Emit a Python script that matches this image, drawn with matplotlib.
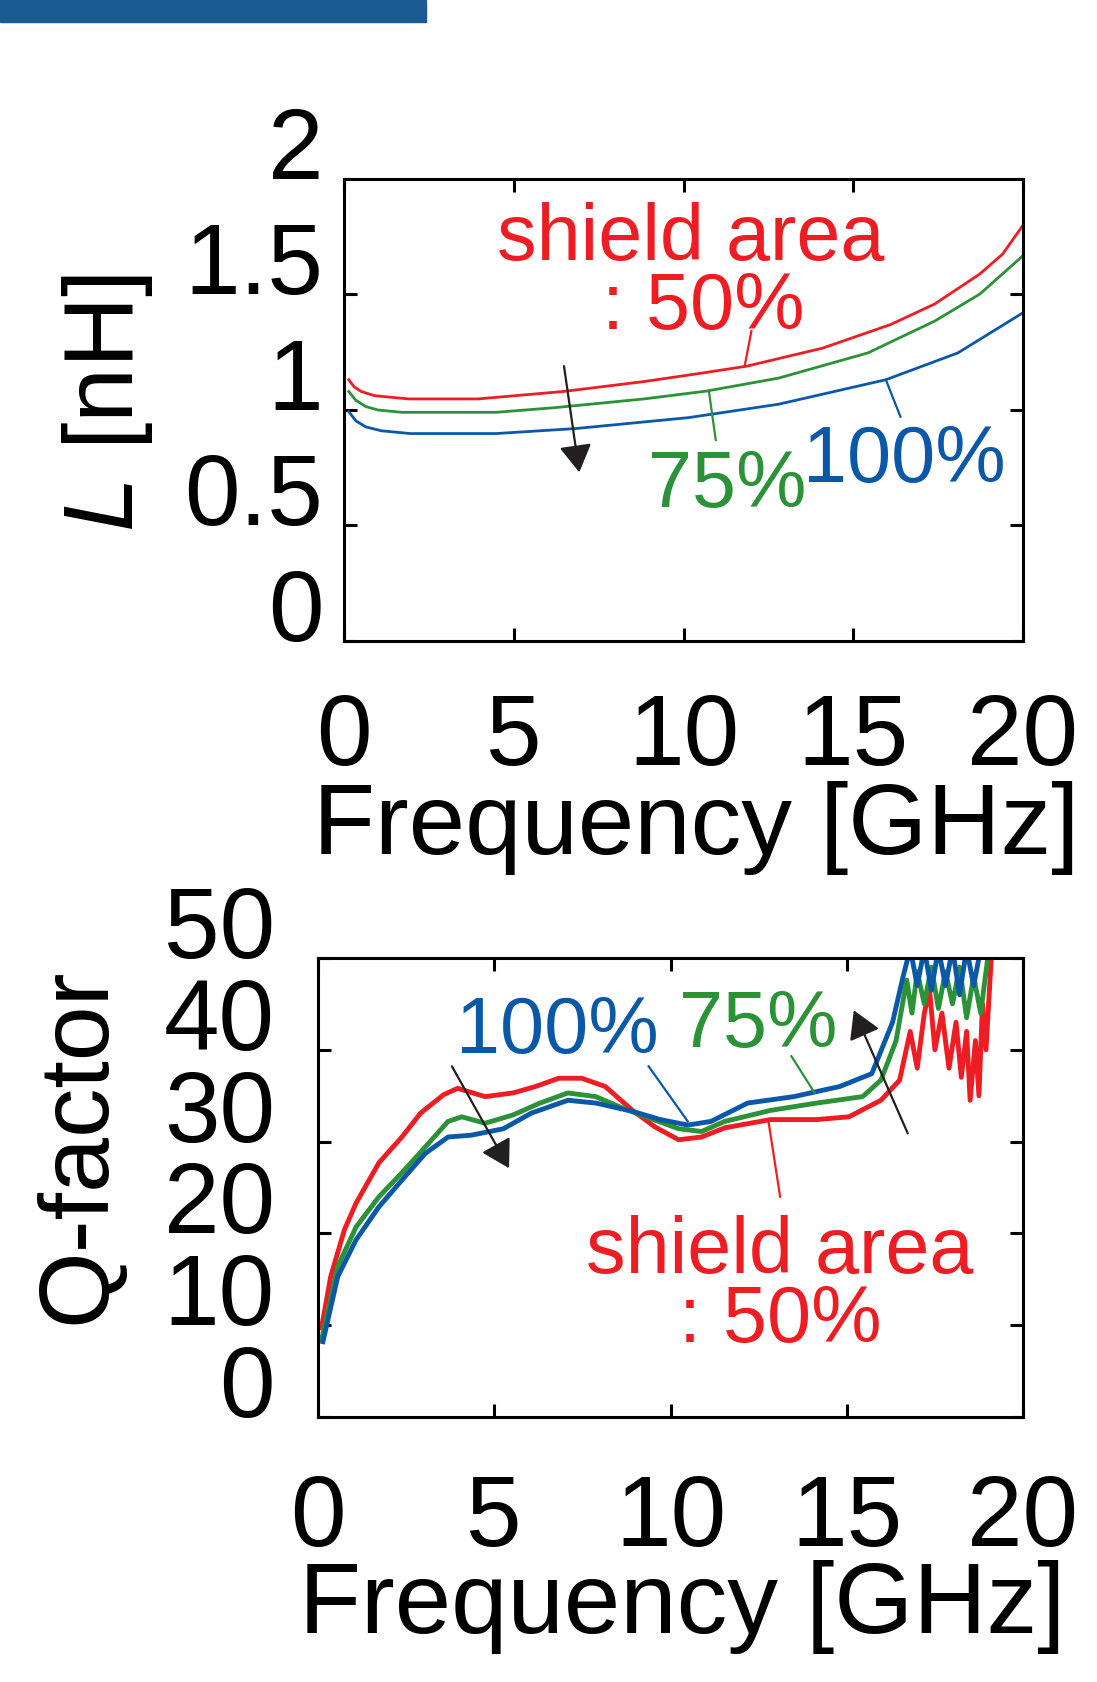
#!/usr/bin/python
# inductance and Q-factor vs frequency for three shield areas

import matplotlib
matplotlib.use("Agg")
import matplotlib.pyplot as plt
from matplotlib.patches import Rectangle

plt.rcParams['font.family'] = ['Liberation Sans', 'DejaVu Sans']
plt.rcParams['mathtext.fontset'] = 'custom'
plt.rcParams['mathtext.rm'] = 'Liberation Sans'
plt.rcParams['mathtext.it'] = 'Liberation Sans:italic'

RED = "#ee1d23"
GREEN = "#2b9237"
BLUE = "#0b58a8"
BLACK = "#231f20"

# ---- L [nH] data
fL50 = [0.14, 0.3, 0.51, 0.9, 1.9, 3.95, 6.45, 8.83, 10.55, 11.87, 14.1, 16.1, 17.4, 18.73, 19.4, 20.0]
L50 = [1.131, 1.100, 1.080, 1.062, 1.048, 1.048, 1.080, 1.123, 1.160, 1.190, 1.268, 1.37, 1.459, 1.589, 1.675, 1.80]
fL75 = [0.14, 0.35, 0.64, 1.0, 1.7, 4.48, 6.2, 8.84, 10.68, 12.8, 15.43, 17.4, 18.73, 20.0]
L75 = [1.080, 1.042, 1.015, 1.000, 0.990, 0.990, 1.010, 1.048, 1.082, 1.138, 1.247, 1.385, 1.502, 1.668]
fL100 = [0.14, 0.35, 0.64, 1.1, 1.96, 4.48, 6.85, 10.15, 12.8, 15.96, 18.08, 20.0]
L100 = [0.993, 0.953, 0.927, 0.910, 0.898, 0.898, 0.920, 0.967, 1.025, 1.131, 1.247, 1.421]

# ---- Q-factor data
fQ50 = [0.1, 0.36, 0.75, 1.08, 1.73, 2.38, 2.91, 3.56, 3.96, 4.74, 5.53, 6.17, 6.83, 7.48,
        8.15, 8.92, 9.56, 10.23, 10.88, 11.54, 12.84, 14.15, 15.06, 15.97, 16.5, 16.8,
        17.0, 17.2, 17.35, 17.5, 17.7, 17.9, 18.1, 18.25, 18.4, 18.5, 18.65, 18.75,
        18.85, 18.95, 19.1, 19.3]
Q50 = [9.7, 15.3, 20.4, 23.3, 27.7, 30.5, 33.1, 35.1, 35.8, 34.9, 35.3, 36.0, 36.9, 36.9,
       36.0, 33.4, 31.6, 30.2, 30.5, 31.5, 32.4, 32.4, 32.7, 34.5, 36.7, 42.0,
       38.0, 44.0, 46.5, 40.0, 44.0, 38.0, 43.0, 37.0, 42.0, 34.5, 41.0, 35.0,
       45.0, 40.0, 50.0, 52.0]
fQ75 = [0.1, 0.56, 1.08, 1.73, 2.38, 3.04, 3.69, 4.08, 4.74, 5.53, 6.3, 7.09, 7.88, 8.67,
        9.45, 10.23, 10.88, 11.54, 12.84, 14.15, 15.45, 15.97, 16.4, 16.7, 16.85, 17.0,
        17.2, 17.4, 17.6, 17.8, 18.0, 18.2, 18.4, 18.6, 18.8, 19.0, 19.1]
Q75 = [8.4, 16.4, 20.7, 24.0, 26.6, 29.4, 32.2, 32.7, 32.0, 32.9, 34.2, 35.3, 34.9, 33.6,
       32.5, 31.4, 31.1, 32.2, 33.4, 34.2, 34.9, 36.7, 41.0, 47.6, 44.0, 48.5,
       45.0, 49.0, 44.5, 48.5, 45.0, 49.0, 43.5, 48.0, 44.0, 50.0, 52.0]
fQ100 = [0.14, 0.56, 1.08, 1.73, 2.38, 3.04, 3.69, 4.35, 5.26, 6.05, 7.09, 7.88, 8.92, 9.71,
         10.49, 11.15, 12.19, 13.5, 14.8, 15.71, 16.3, 16.6, 16.8, 17.0, 17.2, 17.4,
         17.6, 17.8, 18.0, 18.2, 18.4, 18.6, 18.8]
Q100 = [8.2, 15.3, 19.3, 22.9, 25.8, 28.7, 30.5, 30.7, 31.4, 33.1, 34.5, 34.2, 33.3, 32.4,
        31.8, 32.2, 34.2, 34.9, 36.0, 37.4, 43.0, 48.0, 51.0, 47.0, 51.0, 46.5,
        51.0, 47.0, 51.0, 46.0, 51.0, 47.0, 51.0]

xticks = [0, 5, 10, 15, 20]
yticksL = [0, 0.5, 1, 1.5, 2]
yticksQ = [0, 10, 20, 30, 40, 50]

fig = plt.figure(figsize=(10.97, 16.82), dpi=100)

# blue header bar
fig.patches.append(Rectangle((0, 1 - 22 / 1682), 426 / 1097, 22 / 1682,
                             transform=fig.transFigure, color="#1c5a92", zorder=0))

axL = fig.add_axes([344 / 1097, 1 - 641 / 1682, 679 / 1097, 462 / 1682])
axQ = fig.add_axes([318 / 1097, 1 - 1417 / 1682, 705 / 1097, 459 / 1682])


def style(ax, yticks, ypad, xpad):
    ax.set_xlim(0, 20)
    ax.set_ylim(yticks[0], yticks[-1])
    ax.set_xticks(xticks)
    ax.set_yticks(yticks)
    ax.set_yticklabels([("%g" % v) for v in yticks])
    for s in ax.spines.values():
        s.set_linewidth(2.2)
    ax.tick_params(direction='in', length=9.5, width=2.2, top=True, right=True,
                   labelsize=72)
    ax.tick_params(axis='y', pad=ypad)
    ax.tick_params(axis='x', pad=xpad)
    for lab in ax.get_yticklabels():
        lab.set_va('baseline')


def arrow(ax, start, tip):
    ax.annotate('', xy=tip, xytext=start,
                arrowprops=dict(arrowstyle='-|>,head_length=0.85,head_width=0.5',
                                mutation_scale=20, color=BLACK, lw=1.6,
                                shrinkA=0, shrinkB=0))


# ---- top: inductance
style(axL, yticksL, 15, 37)
axL.plot(fL50, L50, color=RED, lw=2)
axL.plot(fL75, L75, color=GREEN, lw=2)
axL.plot(fL100, L100, color=BLUE, lw=2)
arrow(axL, (6.48, 1.19), (6.93, 0.73))
axL.plot([12.0, 11.8], [1.342, 1.189], color=RED, lw=1.6)
axL.plot([10.75, 10.95], [1.08, 0.870], color=GREEN, lw=1.6)
axL.plot([15.96, 16.39], [1.131, 0.971], color=BLUE, lw=1.6)
axL.text(10.22, 1.651, "shield area", color=RED, fontsize=57, ha='center', va='baseline')
axL.text(10.57, 1.349, ": 50%", color=RED, fontsize=57, ha='center', va='baseline')
axL.text(11.3, 0.579, "75%", color=GREEN, fontsize=57, ha='center', va='baseline')
axL.text(16.52, 0.688, "100%", color=BLUE, fontsize=57, ha='center', va='baseline')
axL.set_xlabel("Frequency [GHz]", fontsize=73, va='baseline')
axL.xaxis.set_label_coords(0.518, -0.461)
axL.set_ylabel("$L$ [nH]", fontsize=71, va='center', ha='center')
axL.yaxis.set_label_coords(-0.3476, 0.516)

# ---- bottom: Q-factor
style(axQ, yticksQ, 31, 40)
axQ.plot(fQ50, Q50, color=RED, lw=3.5)
axQ.plot(fQ75, Q75, color=GREEN, lw=3.5)
axQ.plot(fQ100, Q100, color=BLUE, lw=3.5)
arrow(axQ, (3.8, 38.2), (5.42, 27.1))
arrow(axQ, (16.73, 30.9), (15.2, 44.3))
axQ.plot([9.38, 10.49], [38.2, 32.2], color=BLUE, lw=1.6)
axQ.plot([13.43, 14.09], [39.3, 35.3], color=GREEN, lw=1.6)
axQ.plot([12.78, 13.11], [32.2, 24.0], color=RED, lw=1.6)
axQ.text(6.8, 39.6, "100%", color=BLUE, fontsize=57, ha='center', va='baseline')
axQ.text(12.48, 40.3, "75%", color=GREEN, fontsize=57, ha='center', va='baseline')
axQ.text(13.1, 15.65, "shield area", color=RED, fontsize=57, ha='center', va='baseline')
axQ.text(13.12, 8.2, ": 50%", color=RED, fontsize=57, ha='center', va='baseline')
axQ.set_xlabel("Frequency [GHz]", fontsize=73, va='baseline')
axQ.xaxis.set_label_coords(0.517, -0.471)
axQ.set_ylabel("Q-factor", fontsize=71, va='center', ha='center')
axQ.yaxis.set_label_coords(-0.339, 0.591)

fig.savefig("out.png", dpi=100)
